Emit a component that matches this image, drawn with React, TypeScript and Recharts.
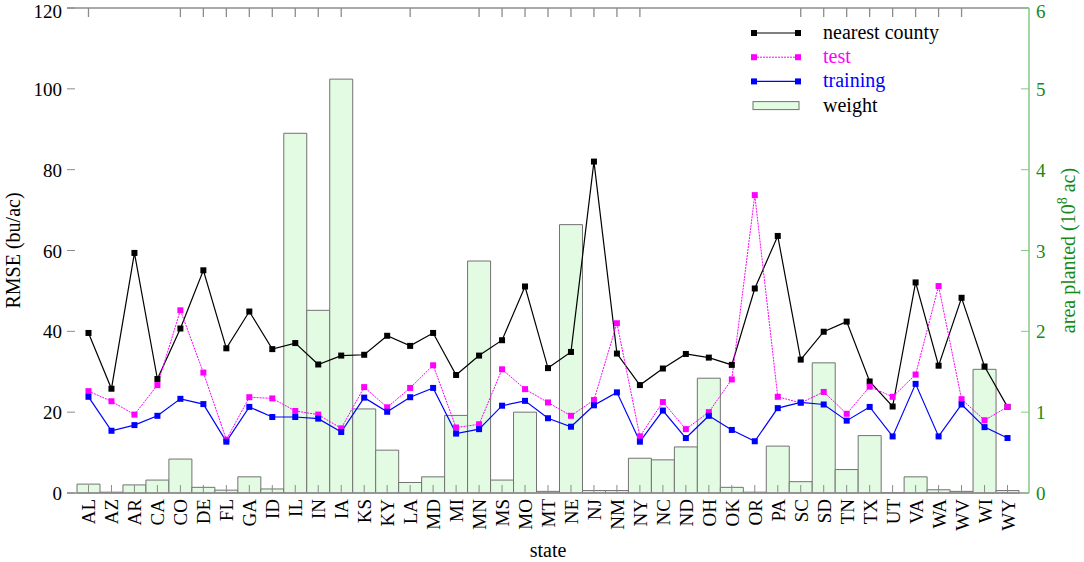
import React from 'react';
import {Bar, ComposedChart, Label, Line, XAxis, YAxis} from 'recharts';

// state abbreviations along the x axis
const states = ['AL', 'AZ', 'AR', 'CA', 'CO', 'DE', 'FL', 'GA', 'ID', 'IL', 'IN', 'IA', 'KS', 'KY',
    'LA', 'MD', 'MI', 'MN', 'MS', 'MO', 'MT', 'NE', 'NJ', 'NM', 'NY', 'NC', 'ND', 'OH',
    'OK', 'OR', 'PA', 'SC', 'SD', 'TN', 'TX', 'UT', 'VA', 'WA', 'WV', 'WI', 'WY'];

// RMSE (bu/ac), left axis
const nearestCounty = [39.6, 25.8, 59.4, 28.2, 40.7, 55.1, 35.8, 44.9, 35.6, 37.1, 31.8, 34.0, 34.2, 38.9,
    36.4, 39.6, 29.2, 34.0, 37.8, 51.1, 30.9, 34.9, 82.0, 34.5, 26.7, 30.8, 34.4, 33.5,
    31.7, 50.6, 63.6, 33.0, 39.9, 42.4, 27.6, 21.4, 52.1, 31.5, 48.3, 31.3, 21.3];
const test = [25.2, 22.7, 19.4, 26.7, 45.2, 29.8, 13.2, 23.7, 23.4, 20.3, 19.4, 16.0, 26.2, 21.2,
    26.0, 31.6, 16.2, 17.0, 30.6, 25.7, 22.4, 19.1, 23.0, 42.0, 14.0, 22.5, 15.8, 20.0,
    28.1, 73.7, 23.8, 22.3, 25.0, 19.6, 26.3, 23.8, 29.3, 51.2, 23.2, 18.0, 21.3];
const training = [23.8, 15.4, 16.8, 19.1, 23.3, 22.0, 12.7, 21.3, 18.8, 18.8, 18.4, 15.1, 23.6, 20.1,
    23.7, 26.0, 14.7, 15.8, 21.6, 22.8, 18.5, 16.4, 21.7, 24.9, 12.7, 20.4, 13.6, 19.1,
    15.6, 12.8, 21.0, 22.4, 21.9, 17.9, 21.3, 14.0, 27.0, 14.0, 21.9, 16.3, 13.6];

// area planted (10^8 ac), right axis
const weight = [0.11, 0.01, 0.10, 0.16, 0.42, 0.07, 0.035, 0.20, 0.05, 4.45, 2.26, 5.12, 1.04, 0.53,
    0.13, 0.20, 0.96, 2.87, 0.16, 1.00, 0.02, 3.32, 0.03, 0.03, 0.43, 0.41, 0.57, 1.42,
    0.07, 0.01, 0.58, 0.14, 1.61, 0.29, 0.71, 0.005, 0.20, 0.04, 0.02, 1.53, 0.03];

const leftTicks = [0, 20, 40, 60, 80, 100, 120];
const rightTicks = [0, 1, 2, 3, 4, 5, 6];

// the mirrored tics on the top border only show for some states
const topTickStates = ['AL', 'CO', 'DE', 'FL', 'GA', 'ID', 'IL', 'IN', 'IA', 'LA', 'MN', 'MS', 'MO',
    'MT', 'NE', 'NJ', 'NM', 'NY', 'SC', 'SD', 'TN', 'TX', 'UT', 'VA', 'WA', 'WV'];

const data = states.map((s, i) => ({
    state: s,
    nearest: nearestCounty[i],
    test: test[i],
    training: training[i],
    weight: weight[i],
}));

const FONT = '"Liberation Serif", "Times New Roman", serif';
const W = 1084;
const H = 562;
const PLOT_LEFT = 67;
const PLOT_RIGHT = 1029;
const PLOT_TOP = 8;
const PLOT_BOTTOM = 493;
const FRAME = '#8c8c8c';
const GREEN_AXIS = '#86c986';
const GREEN_TEXT = '#168a16';
const BAR_FILL = '#e2fbe2';
const BAR_STROKE = '#727272';

const series = [
    {key: 'nearest', name: 'nearest county', color: '#000000', text: '#000000', dash: undefined, width: 1.2},
    {key: 'test', name: 'test', color: '#ff00ff', text: '#ff00ff', dash: '2 1', width: 1},
    {key: 'training', name: 'training', color: '#0000ff', text: '#0000ff', dash: undefined, width: 1.2},
];

// keep the top label's glyph box inside the picture
const labelBaseline = (y) => Math.max(y + 7, 18);

const squareDot = (color) => (p) => {
    const {cx, cy, index} = p;
    if (cx == null || cy == null) return <g key={index}/>;
    return <rect key={index} x={cx - 3} y={cy - 3} width={6} height={6} fill={color}/>;
};

const BottomTick = (props) => {
    const {x, payload} = props;
    return (
        <g>
            <line x1={x} x2={x} y1={PLOT_BOTTOM} y2={PLOT_BOTTOM - 8} stroke={FRAME}/>
            <text transform={`translate(${x + 7}, ${PLOT_BOTTOM + 6}) rotate(-90)`}
                  textAnchor="end" fontFamily={FONT} fontSize={19} fill="#000">
                {payload.value}
            </text>
        </g>
    );
};

const TopTick = (props) => {
    const {x, payload} = props;
    if (!topTickStates.includes(payload.value)) return <g/>;
    return <line x1={x} x2={x} y1={PLOT_TOP} y2={PLOT_TOP + 9} stroke={FRAME} strokeWidth={1.3}/>;
};

const LeftTick = (props) => {
    const {y, payload} = props;
    return (
        <g>
            <line x1={PLOT_LEFT} x2={PLOT_LEFT + 8} y1={y} y2={y} stroke={FRAME}/>
            <text x={PLOT_LEFT - 5} y={labelBaseline(y)} textAnchor="end" fontFamily={FONT} fontSize={19} fill="#000">
                {payload.value}
            </text>
        </g>
    );
};

const RightTick = (props) => {
    const {y, payload} = props;
    return (
        <g>
            <line x1={PLOT_RIGHT - 8} x2={PLOT_RIGHT} y1={y} y2={y} stroke={GREEN_AXIS}/>
            <text x={PLOT_RIGHT + 7} y={labelBaseline(y)} textAnchor="start" fontFamily={FONT} fontSize={19}
                  fill={GREEN_TEXT}>
                {payload.value}
            </text>
        </g>
    );
};

function ChartLegend() {
    const rows = [...series.map(s => ({...s, bar: false})),
        {key: 'weight', name: 'weight', color: BAR_STROKE, text: '#000000', dash: undefined, width: 1, bar: true}];
    return (
        <svg width={250} height={104} style={{position: 'absolute', left: 745, top: 18}}>
            {rows.map((r, i) => {
                const cy = 15 + i * 24.2;
                return (
                    <g key={r.key}>
                        {r.bar ? (
                            <rect x={8} y={cy - 4} width={46} height={8} fill={BAR_FILL} stroke={BAR_STROKE}/>
                        ) : (
                            <g>
                                <line x1={9} x2={53} y1={cy} y2={cy} stroke={r.color}
                                      strokeWidth={r.width} strokeDasharray={r.dash}/>
                                <rect x={6} y={cy - 3} width={6} height={6} fill={r.color}/>
                                <rect x={50} y={cy - 3} width={6} height={6} fill={r.color}/>
                            </g>
                        )}
                        <text x={78} y={cy + 6} fontFamily={FONT} fontSize={20} fill={r.text}>{r.name}</text>
                    </g>
                );
            })}
        </svg>
    );
}

export default function App() {
    return (
        <div style={{position: 'absolute', left: 0, top: 0, width: W, height: H, background: '#fff'}}>
            <ComposedChart width={W} height={H} data={data}
                           margin={{top: 0, right: 0, bottom: 0, left: 0}}
                           barCategoryGap={0} barGap={0}>
                <XAxis dataKey="state" xAxisId="bottom" orientation="bottom" height={H - PLOT_BOTTOM}
                       interval={0} padding={{left: 10, right: 10}}
                       axisLine={{stroke: FRAME, strokeWidth: 1.3}} tickLine={false} tick={<BottomTick/>}>
                    <Label content={() => (
                        <text x={(PLOT_LEFT + PLOT_RIGHT) / 2} y={557} textAnchor="middle"
                              fontFamily={FONT} fontSize={20} fill="#000">state</text>
                    )}/>
                </XAxis>
                <XAxis dataKey="state" xAxisId="top" orientation="top" height={PLOT_TOP}
                       interval={0} padding={{left: 10, right: 10}}
                       axisLine={{stroke: FRAME, strokeWidth: 1.3}} tickLine={false} tick={<TopTick/>}/>
                <YAxis yAxisId="left" orientation="left" width={PLOT_LEFT} domain={[0, 120]} ticks={leftTicks}
                       axisLine={false} tickLine={false} tick={<LeftTick/>} interval={0}>
                    <Label content={() => (
                        <text transform={`translate(20, ${(PLOT_TOP + PLOT_BOTTOM) / 2}) rotate(-90)`}
                              textAnchor="middle" fontFamily={FONT} fontSize={20} fill="#000">RMSE (bu/ac)</text>
                    )}/>
                </YAxis>
                <YAxis yAxisId="right" orientation="right" width={W - PLOT_RIGHT} domain={[0, 6]} ticks={rightTicks}
                       axisLine={{stroke: GREEN_AXIS, strokeWidth: 1.5}} tickLine={false} tick={<RightTick/>} interval={0}>
                    <Label content={() => (
                        <text transform={`translate(1075, ${(PLOT_TOP + PLOT_BOTTOM) / 2}) rotate(-90)`}
                              textAnchor="middle" fontFamily={FONT} fontSize={20} fill={GREEN_TEXT}>
                            area planted (10<tspan dy={-8} fontSize={14}>8</tspan><tspan dy={8}> ac)</tspan>
                        </text>
                    )}/>
                </YAxis>
                <Bar xAxisId="bottom" yAxisId="right" dataKey="weight" fill={BAR_FILL} stroke={BAR_STROKE}
                     strokeWidth={1} isAnimationActive={false}/>
                {series.map(s => (
                    <Line key={s.key} xAxisId="bottom" yAxisId="left" type="linear" dataKey={s.key}
                          stroke={s.color} strokeWidth={s.width} strokeDasharray={s.dash}
                          dot={squareDot(s.color)} activeDot={false} isAnimationActive={false}/>
                ))}
            </ComposedChart>
            <ChartLegend/>
        </div>
    );
}
